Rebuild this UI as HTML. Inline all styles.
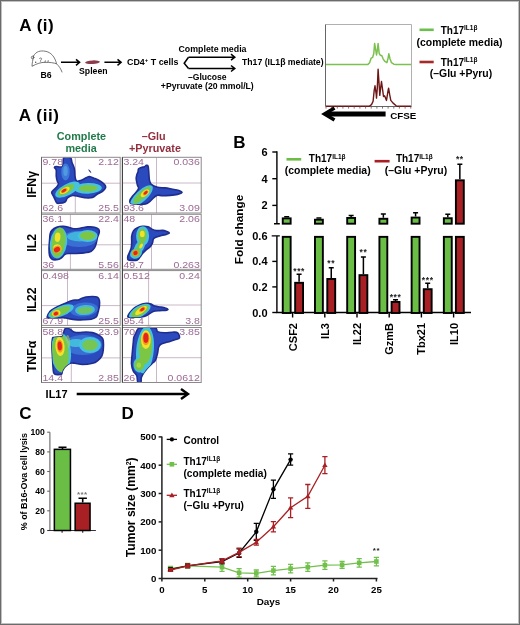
<!DOCTYPE html>
<html><head><meta charset="utf-8">
<style>
html,body{margin:0;padding:0;background:#fff;}
body{width:520px;height:625px;overflow:hidden;position:relative;}
svg{position:absolute;left:0;top:0;font-family:"Liberation Sans",sans-serif;will-change:transform;}
.b{font-weight:bold;}
.num{fill:#9c6a94;font-size:8.2px;}
.gl{stroke:#c4b0c2;stroke-width:0.9;}
.bx{fill:none;stroke:#8a8a8a;stroke-width:1;}
</style></head><body>
<svg width="520" height="625" viewBox="0 0 520 625">
<defs>
<filter id="bl" x="-20%" y="-20%" width="140%" height="140%"><feGaussianBlur stdDeviation="0.75"/></filter>
<filter id="bl2" x="-20%" y="-20%" width="140%" height="140%"><feGaussianBlur stdDeviation="0.5"/></filter>
</defs>
<rect x="0" y="0" width="520" height="625" fill="#fff"/>
<!-- border -->
<rect x="0.5" y="0.5" width="519" height="624" fill="none" stroke="#6b6b6b" stroke-width="1"/>
<rect x="1.5" y="1.5" width="517" height="622" fill="none" stroke="#c0c0c0" stroke-width="1"/>

<!-- ============ A (i) ============ -->
<g id="Ai">
<text x="19.3" y="31" class="b" font-size="17" letter-spacing="0.5">A (i)</text>
<!-- mouse -->
<g fill="none" stroke="#555" stroke-width="0.8" stroke-linecap="round">
<path d="M33.5,56 C36,51 41,50.5 45,51.2 C51,52 55,57 56.5,63.5"/>
<path d="M33.5,56 C33,60 32,63 32,66.3 C37,63.5 41,62.3 45,62.3 C50,62.3 54,62.8 56.5,63.8 C59,66 61,69 62,72"/>
<circle cx="32.6" cy="57.5" r="1.3"/>
<path d="M39.5,58.5 C40,57.5 42,57.8 41.5,59.3 C41,60 40.3,60.3 40.5,61.3"/>
<path d="M45,62.2 L45.3,60.8 M48,62 L48.2,60.6"/>
</g>
<circle cx="35.7" cy="62.3" r="0.7" fill="#444"/>
<text x="46" y="77.5" class="b" font-size="8.7" text-anchor="middle">B6</text>
<!-- arrows -->
<g stroke="#000" stroke-width="1.5" fill="none">
<path d="M61,62.3 H79.5 M76,59.3 L79.6,62.3 L76,65.3"/>
<path d="M104.4,62.3 H121 M117.5,59.3 L121.1,62.3 L117.5,65.3"/>
</g>
<ellipse cx="92.5" cy="62.2" rx="7.4" ry="1.8" fill="#8a3c4a" transform="rotate(-3 92.5 62.2)"/>
<text x="93.3" y="73.5" class="b" font-size="8.7" text-anchor="middle">Spleen</text>
<text x="127" y="65" class="b" font-size="8.9">CD4<tspan font-size="6" dy="-3.5">+</tspan><tspan dy="3.5"> T cells</tspan></text>
<g stroke="#000" stroke-width="1.5" fill="none" stroke-linejoin="miter">
<path d="M188.5,57.2 L184.2,63.2 L188.5,68.5"/>
<path d="M188.5,57.2 H234.5 M231,54.2 L234.8,57.2 L231,60.2"/>
<path d="M188.5,68.5 H234.5 M231,65.5 L234.8,68.5 L231,71.5"/>
</g>
<text x="212.5" y="52.1" class="b" font-size="8.8" text-anchor="middle">Complete media</text>
<text x="242" y="65" class="b" font-size="8.7">Th17 (IL1β mediate)</text>
<text x="207.3" y="79.5" class="b" font-size="8.6" text-anchor="middle">–Glucose</text>
<text x="207.3" y="89.4" class="b" font-size="8.7" text-anchor="middle">+Pyruvate (20 mmol/L)</text>
<!-- histogram box -->
<path d="M325.5,24.5 H411.5 V106.5" fill="none" stroke="#b0b0b0" stroke-width="1"/><path d="M325.5,24.5 V106.5 H411.5" fill="none" stroke="#666" stroke-width="1"/>
<!-- histogram traces -->

<polyline points="326,64.6 367.7,64.6 369.6,62.7 371.2,58.1 372.7,57.3 373.8,53.5 374.6,43.5 375.8,50.4 376.5,55 377.3,50.4 378.1,43.5 379.2,53.5 380.4,55.2 381.9,55.8 383.1,58.8 384.6,61.2 386.9,62.7 388.1,58.1 388.8,53.8 390,58.8 391.5,62.7 393.8,64.2 396,64.6 411,64.6" fill="none" stroke="#7cc150" stroke-width="1.5" stroke-linejoin="round"/>
<polyline points="326,106.3 369.2,106.3 371.5,104.6 373.1,101.2 374.2,90.4 375,85.8 376.2,94.2 376.5,98.1 377.3,88.1 378.1,69.2 379.1,84.2 379.8,95.4 380.8,86.5 381.5,81.5 382.7,90.4 383.5,96.5 384.6,95.8 386.5,100.4 388.1,90.4 388.6,88.1 389.6,94.2 390.8,100.4 393.1,103.1 396.2,105.8 397.7,106.3 411,106.3" fill="none" stroke="#6e1616" stroke-width="1.4" stroke-linejoin="round"/>
<path d="M326.0,106.5 V108.6 M331.6,106.5 V108.6 M337.3,106.5 V108.6 M342.9,106.5 V108.6 M348.6,106.5 V108.6 M354.2,106.5 V108.6 M359.9,106.5 V108.6 M365.6,106.5 V108.6 M371.2,106.5 V108.6 M376.9,106.5 V108.6 M382.5,106.5 V108.6 M388.1,106.5 V108.6 M393.8,106.5 V108.6 M399.4,106.5 V108.6 M405.1,106.5 V108.6 M410.8,106.5 V108.6" stroke="#555" stroke-width="0.8"/>
<!-- legend -->
<line x1="419.5" y1="29.8" x2="433.7" y2="29.8" stroke="#6cbf4a" stroke-width="2.6"/>
<text x="440.7" y="33.6" class="b" font-size="10">Th17<tspan font-size="6.5" dy="-3.6">IL1β</tspan></text>
<text x="416.6" y="46" class="b" font-size="10.45">(complete media)</text>
<line x1="419.5" y1="62" x2="433.7" y2="62" stroke="#a52a2a" stroke-width="2.6"/>
<text x="440.7" y="65.8" class="b" font-size="10">Th17<tspan font-size="6.5" dy="-3.6">IL1β</tspan></text>
<text x="429.8" y="77.3" class="b" font-size="10.45">(–Glu +Pyru)</text>
<!-- CFSE arrow -->
<g stroke="#000" fill="none">
<path d="M385.6,114 H326" stroke-width="5"/>
<path d="M334.5,108 L324.5,114 L334.5,120" stroke-width="3.5"/>
</g>
<text x="403.3" y="118.8" class="b" font-size="9.8" text-anchor="middle">CFSE</text>
</g>

<!-- ============ A (ii) ============ -->
<g id="Aii">
<text x="18.8" y="120.8" class="b" font-size="17" letter-spacing="0.6">A (ii)</text>
<text x="81.4" y="139.8" class="b" font-size="10.8" fill="#217a4a" text-anchor="middle">Complete</text>
<text x="81.1" y="151.9" class="b" font-size="10.8" fill="#217a4a" text-anchor="middle">media</text>
<text x="153.7" y="140" class="b" font-size="10.8" fill="#922f3e" text-anchor="middle">–Glu</text>
<text x="155" y="152.2" class="b" font-size="10.8" fill="#922f3e" text-anchor="middle">+Pyruvate</text>
<!-- row labels -->
<g class="b" font-size="12.3" text-anchor="middle">
<text transform="translate(36,184.3) rotate(-90)">IFNγ</text>
<text transform="translate(36,242.8) rotate(-90)">IL2</text>
<text transform="translate(36,299.8) rotate(-90)">IL22</text>
<text transform="translate(36,356.5) rotate(-90)">TNFα</text>
</g>
<text x="45.6" y="398" class="b" font-size="11">IL17</text>
<g stroke="#000" fill="none">
<path d="M76.7,394 H187" stroke-width="2.4"/>
<path d="M181,389 L188,394 L181,399" stroke-width="2.4"/>
</g>
</g>

<g id="flowgrid">
<line x1="75.3" y1="157.3" x2="75.3" y2="213.0" class="gl"/>
<line x1="41.5" y1="183.2" x2="120.2" y2="183.2" class="gl"/>
<line x1="156.5" y1="157.3" x2="156.5" y2="213.0" class="gl"/>
<line x1="122.4" y1="183.0" x2="201.2" y2="183.0" class="gl"/>
<line x1="70.4" y1="214.3" x2="70.4" y2="269.3" class="gl"/>
<line x1="41.5" y1="244.8" x2="120.2" y2="244.8" class="gl"/>
<line x1="151.5" y1="214.3" x2="151.5" y2="269.3" class="gl"/>
<line x1="122.4" y1="244.5" x2="201.2" y2="244.5" class="gl"/>
<line x1="67.5" y1="270.6" x2="67.5" y2="325.4" class="gl"/>
<line x1="41.5" y1="305.6" x2="120.2" y2="305.6" class="gl"/>
<line x1="148.6" y1="270.6" x2="148.6" y2="325.4" class="gl"/>
<line x1="122.4" y1="305.0" x2="201.2" y2="305.0" class="gl"/>
<line x1="71.3" y1="327.5" x2="71.3" y2="382.5" class="gl"/>
<line x1="41.5" y1="357.9" x2="120.2" y2="357.9" class="gl"/>
<line x1="156.5" y1="327.5" x2="156.5" y2="382.5" class="gl"/>
<line x1="122.4" y1="357.7" x2="201.2" y2="357.7" class="gl"/>
</g>
<g id="blobs">
<clipPath id="cpb"><rect x="41.5" y="157.3" width="159" height="225.2"/></clipPath>
<clipPath id="cp0"><path d="M63.8,157.5 C65.1,156.1 69.1,157.0 70.5,157.8 C71.9,158.6 71.3,160.7 72.0,162.5 C72.7,164.3 73.9,166.5 74.4,168.8 C74.9,171.1 74.7,174.3 75.0,176.3 C75.3,178.3 75.5,180.3 76.5,181.0 C77.5,181.7 79.7,180.7 81.3,180.2 C82.9,179.7 84.9,178.4 86.3,177.8 C87.7,177.2 88.0,176.5 89.4,176.6 C90.9,176.7 93.2,177.9 95.0,178.6 C96.8,179.3 98.4,180.0 100.0,181.0 C101.6,182.0 103.6,183.4 104.5,184.5 C105.4,185.6 105.9,186.4 105.6,187.5 C105.3,188.6 103.8,190.2 102.5,191.3 C101.2,192.4 99.2,193.0 97.5,194.0 C95.8,195.0 94.6,196.9 92.5,197.5 C90.4,198.1 87.3,198.0 85.0,197.8 C82.7,197.6 80.9,196.9 78.8,196.5 C76.7,196.1 74.4,195.2 72.5,195.5 C70.6,195.8 68.8,196.9 67.5,198.0 C66.2,199.1 66.5,201.1 65.0,202.0 C63.5,202.9 60.2,203.2 58.8,203.3 C57.4,203.4 57.3,203.6 56.5,202.5 C55.7,201.4 54.6,198.5 53.8,196.8 C53.0,195.1 51.7,193.7 51.7,192.5 C51.7,191.3 52.9,190.8 53.8,189.8 C54.7,188.8 56.1,187.8 56.9,186.7 C57.7,185.6 58.4,184.4 58.5,183.5 C58.6,182.6 57.7,182.5 57.3,181.3 C56.9,180.1 56.5,178.2 56.3,176.3 C56.1,174.4 56.5,171.5 56.2,170.0 C55.9,168.5 54.4,168.1 54.4,167.5 C54.4,166.9 54.6,166.7 56.0,166.5 C57.4,166.3 61.2,168.0 62.5,166.5 C63.8,165.0 62.5,158.9 63.8,157.5Z"/></clipPath>
<clipPath id="cp1"><path d="M146.3,165.4 C146.9,165.3 147.7,165.0 148.1,166.2 C148.5,167.4 148.6,170.2 148.8,172.5 C149.0,174.8 149.0,178.0 149.4,180.0 C149.8,182.0 150.0,183.2 151.3,184.4 C152.7,185.6 155.2,186.7 157.5,187.3 C159.8,187.9 162.5,187.6 165.0,187.9 C167.5,188.2 170.2,188.8 172.5,189.2 C174.8,189.6 177.2,189.9 178.8,190.5 C180.4,191.1 182.2,191.9 182.0,192.6 C181.8,193.2 179.5,193.9 177.5,194.4 C175.5,194.9 172.5,195.2 170.0,195.4 C167.5,195.6 164.6,195.7 162.5,195.7 C160.4,195.7 158.9,194.9 157.5,195.2 C156.1,195.5 155.1,196.6 153.8,197.6 C152.6,198.6 151.4,200.3 150.0,201.4 C148.6,202.5 147.7,203.5 145.6,203.9 C143.5,204.3 140.0,204.2 137.5,204.1 C135.0,204.0 131.7,204.0 130.4,203.3 C129.2,202.6 129.7,201.2 130.0,200.0 C130.3,198.8 131.3,197.8 132.5,196.3 C133.7,194.9 135.9,192.7 136.9,191.3 C137.9,189.9 138.5,189.2 138.6,188.1 C138.7,187.0 137.8,186.6 137.4,185.0 C137.0,183.4 136.3,180.5 136.2,178.8 C136.1,177.1 136.5,176.2 136.8,175.0 C137.1,173.8 137.7,172.9 138.0,171.9 C138.3,170.9 138.0,169.6 138.6,168.8 C139.2,168.1 140.3,167.7 141.3,167.4 C142.3,167.1 143.6,167.1 144.4,166.8 C145.2,166.5 145.7,165.5 146.3,165.4Z"/></clipPath>
<clipPath id="cp2"><path d="M51.9,230.4 C52.9,229.3 54.6,227.9 56.5,227.2 C58.4,226.5 61.4,226.2 63.5,226.3 C65.6,226.4 67.5,227.1 69.2,227.5 C70.9,227.9 71.9,228.6 73.8,228.7 C75.7,228.8 78.5,228.4 80.8,228.1 C83.1,227.8 85.4,227.1 87.7,226.9 C90.0,226.8 92.8,226.8 94.6,227.2 C96.4,227.6 97.9,228.3 98.7,229.2 C99.5,230.1 99.4,231.3 99.2,232.7 C99.0,234.0 98.0,235.6 97.5,237.3 C97.0,239.0 96.8,241.4 96.3,243.1 C95.8,244.8 95.4,246.3 94.6,247.7 C93.8,249.0 92.9,250.3 91.2,251.2 C89.5,252.1 86.7,252.5 84.2,252.9 C81.7,253.3 78.9,253.4 76.2,253.5 C73.5,253.6 70.0,253.3 68.1,253.5 C66.2,253.7 65.8,253.8 64.6,254.6 C63.4,255.4 62.6,257.2 61.2,258.1 C59.9,259.0 58.0,259.6 56.5,259.8 C55.0,260.0 53.0,259.9 51.9,259.2 C50.8,258.5 50.1,257.5 49.6,255.8 C49.1,254.1 49.0,251.5 49.0,248.8 C49.0,246.1 49.4,242.1 49.6,239.6 C49.8,237.1 49.8,235.3 50.2,233.8 C50.6,232.3 50.9,231.5 51.9,230.4Z"/></clipPath>
<clipPath id="cp3"><path d="M133.6,230.6 C134.6,229.2 136.1,228.4 137.5,227.7 C138.9,227.0 140.6,226.5 142.3,226.3 C144.1,226.1 146.4,226.2 148.0,226.7 C149.6,227.2 150.5,228.4 151.9,229.1 C153.3,229.8 154.9,230.4 156.7,230.6 C158.5,230.8 160.9,230.3 162.5,230.4 C164.1,230.5 165.2,230.9 166.3,231.3 C167.5,231.7 169.4,232.5 169.4,233.0 C169.4,233.5 167.6,234.0 166.3,234.4 C165.0,234.8 163.3,234.9 161.5,235.4 C159.7,235.9 157.1,236.7 155.7,237.3 C154.3,237.9 153.9,238.2 153.3,239.2 C152.8,240.2 153.0,241.8 152.4,243.1 C151.8,244.4 151.1,245.8 150.0,246.9 C148.9,248.0 147.2,248.8 146.1,249.8 C145.0,250.8 144.2,251.6 143.2,252.7 C142.2,253.8 141.2,255.3 140.3,256.5 C139.4,257.7 138.8,259.2 137.5,259.9 C136.2,260.5 134.2,260.4 132.7,260.4 C131.1,260.4 129.0,260.5 128.2,259.9 C127.4,259.2 127.6,257.7 127.8,256.5 C128.0,255.3 128.7,254.1 129.3,252.7 C129.9,251.3 130.8,249.7 131.2,247.9 C131.6,246.1 131.6,244.0 131.7,242.1 C131.8,240.2 131.4,238.2 131.7,236.3 C132.0,234.4 132.6,232.0 133.6,230.6Z"/></clipPath>
<clipPath id="cp4"><path d="M47.3,316.5 C47.6,315.5 48.5,313.2 49.6,311.9 C50.8,310.6 52.3,309.6 54.2,308.5 C56.1,307.4 58.9,306.1 61.2,305.0 C63.5,303.9 66.1,302.9 68.1,302.1 C70.1,301.3 71.3,300.6 73.0,300.2 C74.7,299.8 76.5,300.3 78.0,300.0 C79.5,299.7 80.7,298.7 82.0,298.2 C83.3,297.7 84.3,297.3 86.0,297.0 C87.7,296.7 90.4,296.5 92.3,296.5 C94.2,296.5 96.3,296.6 97.5,297.2 C98.7,297.8 99.1,298.9 99.4,300.4 C99.7,301.9 99.6,304.3 99.4,306.2 C99.2,308.1 98.6,310.1 98.1,311.9 C97.6,313.7 97.3,315.8 96.2,317.0 C95.1,318.2 93.4,318.7 91.2,319.2 C89.0,319.7 85.8,319.7 83.1,319.8 C80.4,319.9 77.5,319.8 75.0,319.6 C72.5,319.4 70.0,318.8 68.1,318.5 C66.2,318.2 65.0,317.7 63.5,317.6 C62.0,317.5 60.7,317.8 58.8,317.9 C56.9,318.0 53.7,318.0 51.9,318.0 C50.1,318.0 48.7,318.2 47.9,318.0 C47.1,317.8 47.0,317.5 47.3,316.5Z"/></clipPath>
<clipPath id="cp5"><path d="M127.8,316.2 C128.0,315.4 128.8,314.1 129.8,312.8 C130.8,311.5 132.2,309.7 133.6,308.5 C135.0,307.3 136.8,306.4 138.4,305.6 C140.0,304.8 141.8,304.1 143.2,303.7 C144.6,303.3 145.8,303.1 147.1,303.2 C148.4,303.3 149.6,303.6 150.9,304.1 C152.2,304.6 153.2,305.6 154.8,306.1 C156.4,306.6 158.8,306.7 160.5,307.0 C162.2,307.3 164.1,307.6 165.3,308.0 C166.6,308.4 168.0,309.0 168.0,309.4 C168.0,309.8 166.7,310.2 165.3,310.4 C163.9,310.6 161.5,310.5 159.6,310.6 C157.7,310.8 155.4,310.9 153.8,311.3 C152.2,311.8 151.3,312.6 150.0,313.3 C148.7,314.0 147.5,315.1 146.1,315.7 C144.7,316.3 143.4,316.6 141.3,316.9 C139.2,317.2 135.7,317.2 133.6,317.3 C131.5,317.4 129.8,317.5 128.8,317.3 C127.8,317.1 127.6,316.9 127.8,316.2Z"/></clipPath>
<clipPath id="cp6"><path d="M52.5,338.3 C52.2,339.7 51.9,342.5 51.9,345.8 C51.9,349.1 52.3,354.6 52.5,358.3 C52.7,362.1 52.8,365.7 53.1,368.3 C53.4,370.9 53.0,372.9 54.4,373.9 C55.8,374.9 59.9,374.8 61.3,374.3 C62.6,373.8 61.9,372.0 62.5,370.8 C63.1,369.6 63.8,368.2 65.0,367.0 C66.2,365.8 68.3,363.9 70.0,363.3 C71.7,362.7 72.9,363.1 75.0,363.3 C77.1,363.5 79.6,364.5 82.5,364.5 C85.4,364.5 90.0,363.9 92.5,363.3 C95.0,362.7 95.9,362.1 97.5,360.8 C99.1,359.6 100.9,357.7 101.9,355.8 C102.9,353.9 103.1,352.0 103.3,349.5 C103.5,347.0 103.5,342.8 103.3,340.8 C103.1,338.8 102.9,338.7 101.9,337.6 C100.9,336.6 99.1,335.3 97.5,334.5 C95.9,333.7 94.4,333.0 92.5,332.6 C90.6,332.2 88.6,332.0 86.3,332.0 C84.0,332.0 80.9,332.6 78.8,332.6 C76.7,332.6 75.2,332.5 73.8,332.0 C72.4,331.5 71.6,330.1 70.6,329.5 C69.5,328.9 68.4,328.4 67.5,328.3 C66.6,328.2 65.6,328.3 65.0,328.9 C64.4,329.5 64.2,330.8 63.8,332.0 C63.4,333.2 63.5,335.6 62.5,336.4 C61.5,337.2 59.0,336.8 57.5,337.0 C56.0,337.2 54.6,337.4 53.8,337.6 C53.0,337.8 52.8,336.9 52.5,338.3Z"/></clipPath>
<clipPath id="cp7"><path d="M140.2,328.0 C143.2,327.7 152.3,327.4 155.2,328.0 C158.1,328.6 156.0,330.8 157.5,331.6 C159.0,332.4 161.9,332.7 164.4,332.8 C166.9,332.9 170.3,332.2 172.5,332.2 C174.7,332.2 176.5,331.8 177.7,332.8 C178.8,333.8 179.9,336.9 179.4,338.0 C178.9,339.1 176.7,339.0 174.8,339.7 C172.9,340.4 170.1,341.2 167.8,342.0 C165.5,342.8 162.4,343.4 160.9,344.3 C159.4,345.2 159.2,345.7 158.6,347.2 C158.0,348.7 158.1,351.3 157.5,353.5 C156.9,355.7 156.2,358.8 155.2,360.5 C154.2,362.2 153.0,362.6 151.7,363.9 C150.3,365.2 148.4,366.9 147.1,368.5 C145.8,370.1 144.6,371.6 143.6,373.2 C142.6,374.8 141.8,376.3 141.3,377.8 C140.9,379.3 141.5,381.6 140.9,382.4 C140.3,383.2 138.5,383.5 137.8,382.4 C137.1,381.2 137.5,377.4 136.7,375.5 C135.9,373.6 134.1,372.7 133.2,370.8 C132.3,368.9 131.7,366.6 131.5,363.9 C131.3,361.2 131.8,358.1 132.1,354.7 C132.4,351.2 132.9,346.1 133.2,343.2 C133.5,340.3 133.4,338.9 133.8,337.4 C134.2,335.8 134.9,335.1 135.5,333.9 C136.1,332.6 136.5,330.9 137.3,329.9 C138.1,328.9 137.2,328.3 140.2,328.0Z"/></clipPath>
<g clip-path="url(#cpb)">
<path d="M63.8,157.5 C65.1,156.1 69.1,157.0 70.5,157.8 C71.9,158.6 71.3,160.7 72.0,162.5 C72.7,164.3 73.9,166.5 74.4,168.8 C74.9,171.1 74.7,174.3 75.0,176.3 C75.3,178.3 75.5,180.3 76.5,181.0 C77.5,181.7 79.7,180.7 81.3,180.2 C82.9,179.7 84.9,178.4 86.3,177.8 C87.7,177.2 88.0,176.5 89.4,176.6 C90.9,176.7 93.2,177.9 95.0,178.6 C96.8,179.3 98.4,180.0 100.0,181.0 C101.6,182.0 103.6,183.4 104.5,184.5 C105.4,185.6 105.9,186.4 105.6,187.5 C105.3,188.6 103.8,190.2 102.5,191.3 C101.2,192.4 99.2,193.0 97.5,194.0 C95.8,195.0 94.6,196.9 92.5,197.5 C90.4,198.1 87.3,198.0 85.0,197.8 C82.7,197.6 80.9,196.9 78.8,196.5 C76.7,196.1 74.4,195.2 72.5,195.5 C70.6,195.8 68.8,196.9 67.5,198.0 C66.2,199.1 66.5,201.1 65.0,202.0 C63.5,202.9 60.2,203.2 58.8,203.3 C57.4,203.4 57.3,203.6 56.5,202.5 C55.7,201.4 54.6,198.5 53.8,196.8 C53.0,195.1 51.7,193.7 51.7,192.5 C51.7,191.3 52.9,190.8 53.8,189.8 C54.7,188.8 56.1,187.8 56.9,186.7 C57.7,185.6 58.4,184.4 58.5,183.5 C58.6,182.6 57.7,182.5 57.3,181.3 C56.9,180.1 56.5,178.2 56.3,176.3 C56.1,174.4 56.5,171.5 56.2,170.0 C55.9,168.5 54.4,168.1 54.4,167.5 C54.4,166.9 54.6,166.7 56.0,166.5 C57.4,166.3 61.2,168.0 62.5,166.5 C63.8,165.0 62.5,158.9 63.8,157.5Z" fill="#2b4abd" stroke="#1f2d8e" stroke-width="1.6"/>
<path d="M88.2,169.2 C89.5,169.6 91.4,171.5 91.3,173.2 C90.2,172.6 88.6,171 88.2,169.2Z" fill="#1f2d8e"/>
<g clip-path="url(#cp0)"><g filter="url(#bl)">
<ellipse cx="65.5" cy="172" rx="4.2" ry="8.5" transform="rotate(0 65.5 172)" fill="#3f7fdc" opacity="0.9"/>
<ellipse cx="65.5" cy="171" rx="2.2" ry="5.0" transform="rotate(0 65.5 171)" fill="#5aa6e6" opacity="0.7"/>
<ellipse cx="67.5" cy="189.6" rx="13.5" ry="5.6" transform="rotate(-28 67.5 189.6)" fill="#45c2de"/>
<ellipse cx="88" cy="188.3" rx="13.8" ry="5.4" transform="rotate(-2 88 188.3)" fill="#45c2de"/>
<ellipse cx="88" cy="188.3" rx="9.46" ry="3.3" transform="rotate(-2 88 188.3)" fill="#7cc644"/>
<ellipse cx="66" cy="189.9" rx="9.46" ry="3.8" transform="rotate(-30 66 189.9)" fill="#7cc644"/>
<ellipse cx="64.8" cy="190.4" rx="5.5" ry="2.6" transform="rotate(-30 64.8 190.4)" fill="#f2e32a"/>
<ellipse cx="64.2" cy="190.6" rx="3.6" ry="1.9" transform="rotate(-30 64.2 190.6)" fill="#f39a22"/>
<ellipse cx="63.9" cy="190.6" rx="2.6" ry="1.31" transform="rotate(-30 63.9 190.6)" fill="#e2251e"/>
</g></g>
<path d="M146.3,165.4 C146.9,165.3 147.7,165.0 148.1,166.2 C148.5,167.4 148.6,170.2 148.8,172.5 C149.0,174.8 149.0,178.0 149.4,180.0 C149.8,182.0 150.0,183.2 151.3,184.4 C152.7,185.6 155.2,186.7 157.5,187.3 C159.8,187.9 162.5,187.6 165.0,187.9 C167.5,188.2 170.2,188.8 172.5,189.2 C174.8,189.6 177.2,189.9 178.8,190.5 C180.4,191.1 182.2,191.9 182.0,192.6 C181.8,193.2 179.5,193.9 177.5,194.4 C175.5,194.9 172.5,195.2 170.0,195.4 C167.5,195.6 164.6,195.7 162.5,195.7 C160.4,195.7 158.9,194.9 157.5,195.2 C156.1,195.5 155.1,196.6 153.8,197.6 C152.6,198.6 151.4,200.3 150.0,201.4 C148.6,202.5 147.7,203.5 145.6,203.9 C143.5,204.3 140.0,204.2 137.5,204.1 C135.0,204.0 131.7,204.0 130.4,203.3 C129.2,202.6 129.7,201.2 130.0,200.0 C130.3,198.8 131.3,197.8 132.5,196.3 C133.7,194.9 135.9,192.7 136.9,191.3 C137.9,189.9 138.5,189.2 138.6,188.1 C138.7,187.0 137.8,186.6 137.4,185.0 C137.0,183.4 136.3,180.5 136.2,178.8 C136.1,177.1 136.5,176.2 136.8,175.0 C137.1,173.8 137.7,172.9 138.0,171.9 C138.3,170.9 138.0,169.6 138.6,168.8 C139.2,168.1 140.3,167.7 141.3,167.4 C142.3,167.1 143.6,167.1 144.4,166.8 C145.2,166.5 145.7,165.5 146.3,165.4Z" fill="#2b4abd" stroke="#1f2d8e" stroke-width="1.6"/>
<g clip-path="url(#cp1)"><g filter="url(#bl)">
<ellipse cx="141.5" cy="196" rx="14.5" ry="5.6" transform="rotate(-43 141.5 196)" fill="#45c2de"/>
<ellipse cx="142" cy="195.2" rx="11.55" ry="3.63" transform="rotate(-43 142 195.2)" fill="#7cc644"/>
<ellipse cx="145" cy="193.2" rx="5.07" ry="2.6" transform="rotate(-40 145 193.2)" fill="#f2e32a"/>
<ellipse cx="145.6" cy="192.8" rx="3.24" ry="1.8" transform="rotate(-40 145.6 192.8)" fill="#f39a22"/>
<ellipse cx="145.7" cy="192.7" rx="2.32" ry="1.28" transform="rotate(-40 145.7 192.7)" fill="#e2251e"/>
</g></g>
<path d="M51.9,230.4 C52.9,229.3 54.6,227.9 56.5,227.2 C58.4,226.5 61.4,226.2 63.5,226.3 C65.6,226.4 67.5,227.1 69.2,227.5 C70.9,227.9 71.9,228.6 73.8,228.7 C75.7,228.8 78.5,228.4 80.8,228.1 C83.1,227.8 85.4,227.1 87.7,226.9 C90.0,226.8 92.8,226.8 94.6,227.2 C96.4,227.6 97.9,228.3 98.7,229.2 C99.5,230.1 99.4,231.3 99.2,232.7 C99.0,234.0 98.0,235.6 97.5,237.3 C97.0,239.0 96.8,241.4 96.3,243.1 C95.8,244.8 95.4,246.3 94.6,247.7 C93.8,249.0 92.9,250.3 91.2,251.2 C89.5,252.1 86.7,252.5 84.2,252.9 C81.7,253.3 78.9,253.4 76.2,253.5 C73.5,253.6 70.0,253.3 68.1,253.5 C66.2,253.7 65.8,253.8 64.6,254.6 C63.4,255.4 62.6,257.2 61.2,258.1 C59.9,259.0 58.0,259.6 56.5,259.8 C55.0,260.0 53.0,259.9 51.9,259.2 C50.8,258.5 50.1,257.5 49.6,255.8 C49.1,254.1 49.0,251.5 49.0,248.8 C49.0,246.1 49.4,242.1 49.6,239.6 C49.8,237.1 49.8,235.3 50.2,233.8 C50.6,232.3 50.9,231.5 51.9,230.4Z" fill="#2b4abd" stroke="#1f2d8e" stroke-width="1.6"/>
<g clip-path="url(#cp2)"><g filter="url(#bl)">
<ellipse cx="79" cy="239" rx="18.0" ry="8.0" transform="rotate(0 79 239)" fill="#3f7fdc" opacity="0.7"/>
<ellipse cx="80" cy="236.5" rx="13.0" ry="5.0" transform="rotate(0 80 236.5)" fill="#45c2de" opacity="0.8"/>
<ellipse cx="87.7" cy="236" rx="10.0" ry="6.0" transform="rotate(0 87.7 236)" fill="#45c2de"/>
<ellipse cx="58.5" cy="243" rx="8.5" ry="15.5" transform="rotate(8 58.5 243)" fill="#45c2de"/>
<ellipse cx="87.7" cy="235.8" rx="7.7" ry="4.18" transform="rotate(0 87.7 235.8)" fill="#7cc644"/>
<ellipse cx="58.5" cy="242.5" rx="6.82" ry="14.85" transform="rotate(8 58.5 242.5)" fill="#7cc644"/>
<ellipse cx="57.6" cy="237.3" rx="2.83" ry="4.72" transform="rotate(5 57.6 237.3)" fill="#f2e32a"/>
<ellipse cx="57.4" cy="248.4" rx="4.01" ry="4.13" transform="rotate(-20 57.4 248.4)" fill="#f2e32a"/>
<ellipse cx="57.2" cy="249.3" rx="4.32" ry="3.48" transform="rotate(-30 57.2 249.3)" fill="#f39a22"/>
<ellipse cx="57" cy="249.6" rx="3.17" ry="2.56" transform="rotate(-30 57 249.6)" fill="#e2251e"/>
</g></g>
<path d="M133.6,230.6 C134.6,229.2 136.1,228.4 137.5,227.7 C138.9,227.0 140.6,226.5 142.3,226.3 C144.1,226.1 146.4,226.2 148.0,226.7 C149.6,227.2 150.5,228.4 151.9,229.1 C153.3,229.8 154.9,230.4 156.7,230.6 C158.5,230.8 160.9,230.3 162.5,230.4 C164.1,230.5 165.2,230.9 166.3,231.3 C167.5,231.7 169.4,232.5 169.4,233.0 C169.4,233.5 167.6,234.0 166.3,234.4 C165.0,234.8 163.3,234.9 161.5,235.4 C159.7,235.9 157.1,236.7 155.7,237.3 C154.3,237.9 153.9,238.2 153.3,239.2 C152.8,240.2 153.0,241.8 152.4,243.1 C151.8,244.4 151.1,245.8 150.0,246.9 C148.9,248.0 147.2,248.8 146.1,249.8 C145.0,250.8 144.2,251.6 143.2,252.7 C142.2,253.8 141.2,255.3 140.3,256.5 C139.4,257.7 138.8,259.2 137.5,259.9 C136.2,260.5 134.2,260.4 132.7,260.4 C131.1,260.4 129.0,260.5 128.2,259.9 C127.4,259.2 127.6,257.7 127.8,256.5 C128.0,255.3 128.7,254.1 129.3,252.7 C129.9,251.3 130.8,249.7 131.2,247.9 C131.6,246.1 131.6,244.0 131.7,242.1 C131.8,240.2 131.4,238.2 131.7,236.3 C132.0,234.4 132.6,232.0 133.6,230.6Z" fill="#2b4abd" stroke="#1f2d8e" stroke-width="1.6"/>
<g clip-path="url(#cp3)"><g filter="url(#bl)">
<ellipse cx="142.6" cy="236" rx="6.5" ry="10.0" transform="rotate(0 142.6 236)" fill="#45c2de"/>
<ellipse cx="139.5" cy="247" rx="4.5" ry="8.5" transform="rotate(30 139.5 247)" fill="#45c2de"/>
<ellipse cx="136" cy="253.5" rx="6.2" ry="4.8" transform="rotate(-30 136 253.5)" fill="#45c2de"/>
<ellipse cx="142.4" cy="235.8" rx="4.4" ry="7.04" transform="rotate(0 142.4 235.8)" fill="#7cc644"/>
<ellipse cx="140.4" cy="245" rx="2.42" ry="5.06" transform="rotate(30 140.4 245)" fill="#7cc644"/>
<ellipse cx="136" cy="252.8" rx="4.62" ry="3.96" transform="rotate(-30 136 252.8)" fill="#7cc644"/>
<ellipse cx="142.3" cy="233.9" rx="2.36" ry="3.19" transform="rotate(0 142.3 233.9)" fill="#f2e32a"/>
<ellipse cx="141.1" cy="246" rx="1.53" ry="2.71" transform="rotate(30 141.1 246)" fill="#f2e32a"/>
<ellipse cx="135.6" cy="253" rx="3.12" ry="2.88" transform="rotate(-30 135.6 253)" fill="#f39a22"/>
<ellipse cx="135.5" cy="253" rx="2.26" ry="2.07" transform="rotate(-30 135.5 253)" fill="#e2251e"/>
</g></g>
<path d="M47.3,316.5 C47.6,315.5 48.5,313.2 49.6,311.9 C50.8,310.6 52.3,309.6 54.2,308.5 C56.1,307.4 58.9,306.1 61.2,305.0 C63.5,303.9 66.1,302.9 68.1,302.1 C70.1,301.3 71.3,300.6 73.0,300.2 C74.7,299.8 76.5,300.3 78.0,300.0 C79.5,299.7 80.7,298.7 82.0,298.2 C83.3,297.7 84.3,297.3 86.0,297.0 C87.7,296.7 90.4,296.5 92.3,296.5 C94.2,296.5 96.3,296.6 97.5,297.2 C98.7,297.8 99.1,298.9 99.4,300.4 C99.7,301.9 99.6,304.3 99.4,306.2 C99.2,308.1 98.6,310.1 98.1,311.9 C97.6,313.7 97.3,315.8 96.2,317.0 C95.1,318.2 93.4,318.7 91.2,319.2 C89.0,319.7 85.8,319.7 83.1,319.8 C80.4,319.9 77.5,319.8 75.0,319.6 C72.5,319.4 70.0,318.8 68.1,318.5 C66.2,318.2 65.0,317.7 63.5,317.6 C62.0,317.5 60.7,317.8 58.8,317.9 C56.9,318.0 53.7,318.0 51.9,318.0 C50.1,318.0 48.7,318.2 47.9,318.0 C47.1,317.8 47.0,317.5 47.3,316.5Z" fill="#2b4abd" stroke="#1f2d8e" stroke-width="1.6"/>
<g clip-path="url(#cp4)"><g filter="url(#bl)">
<ellipse cx="84" cy="309.5" rx="14.0" ry="7.0" transform="rotate(-5 84 309.5)" fill="#3f7fdc" opacity="0.7"/>
<ellipse cx="85" cy="310" rx="10.0" ry="5.0" transform="rotate(-5 85 310)" fill="#45c2de" opacity="0.9"/>
<ellipse cx="61" cy="311.2" rx="13.5" ry="5.0" transform="rotate(-22 61 311.2)" fill="#45c2de"/>
<ellipse cx="85" cy="310.3" rx="7.7" ry="3.3" transform="rotate(-5 85 310.3)" fill="#7cc644" opacity="0.8"/>
<ellipse cx="60" cy="311.6" rx="11.0" ry="3.85" transform="rotate(-22 60 311.6)" fill="#7cc644"/>
<ellipse cx="56.3" cy="313.3" rx="4.25" ry="3.07" transform="rotate(-20 56.3 313.3)" fill="#f2e32a"/>
<ellipse cx="56" cy="313.6" rx="3.12" ry="2.4" transform="rotate(-20 56 313.6)" fill="#f39a22"/>
<ellipse cx="55.9" cy="313.7" rx="2.2" ry="1.77" transform="rotate(-20 55.9 313.7)" fill="#e2251e"/>
</g></g>
<path d="M127.8,316.2 C128.0,315.4 128.8,314.1 129.8,312.8 C130.8,311.5 132.2,309.7 133.6,308.5 C135.0,307.3 136.8,306.4 138.4,305.6 C140.0,304.8 141.8,304.1 143.2,303.7 C144.6,303.3 145.8,303.1 147.1,303.2 C148.4,303.3 149.6,303.6 150.9,304.1 C152.2,304.6 153.2,305.6 154.8,306.1 C156.4,306.6 158.8,306.7 160.5,307.0 C162.2,307.3 164.1,307.6 165.3,308.0 C166.6,308.4 168.0,309.0 168.0,309.4 C168.0,309.8 166.7,310.2 165.3,310.4 C163.9,310.6 161.5,310.5 159.6,310.6 C157.7,310.8 155.4,310.9 153.8,311.3 C152.2,311.8 151.3,312.6 150.0,313.3 C148.7,314.0 147.5,315.1 146.1,315.7 C144.7,316.3 143.4,316.6 141.3,316.9 C139.2,317.2 135.7,317.2 133.6,317.3 C131.5,317.4 129.8,317.5 128.8,317.3 C127.8,317.1 127.6,316.9 127.8,316.2Z" fill="#2b4abd" stroke="#1f2d8e" stroke-width="1.6"/>
<g clip-path="url(#cp5)"><g filter="url(#bl)">
<ellipse cx="139.8" cy="311.3" rx="12.0" ry="5.4" transform="rotate(-30 139.8 311.3)" fill="#45c2de"/>
<ellipse cx="140" cy="311.3" rx="9.9" ry="4.18" transform="rotate(-30 140 311.3)" fill="#7cc644"/>
<ellipse cx="141" cy="310.5" rx="6.84" ry="2.71" transform="rotate(-35 141 310.5)" fill="#f2e32a"/>
<ellipse cx="142.2" cy="309.5" rx="3.6" ry="1.92" transform="rotate(-35 142.2 309.5)" fill="#f39a22"/>
<ellipse cx="142.3" cy="309.4" rx="2.44" ry="1.34" transform="rotate(-35 142.3 309.4)" fill="#e2251e"/>
</g></g>
<path d="M52.5,338.3 C52.2,339.7 51.9,342.5 51.9,345.8 C51.9,349.1 52.3,354.6 52.5,358.3 C52.7,362.1 52.8,365.7 53.1,368.3 C53.4,370.9 53.0,372.9 54.4,373.9 C55.8,374.9 59.9,374.8 61.3,374.3 C62.6,373.8 61.9,372.0 62.5,370.8 C63.1,369.6 63.8,368.2 65.0,367.0 C66.2,365.8 68.3,363.9 70.0,363.3 C71.7,362.7 72.9,363.1 75.0,363.3 C77.1,363.5 79.6,364.5 82.5,364.5 C85.4,364.5 90.0,363.9 92.5,363.3 C95.0,362.7 95.9,362.1 97.5,360.8 C99.1,359.6 100.9,357.7 101.9,355.8 C102.9,353.9 103.1,352.0 103.3,349.5 C103.5,347.0 103.5,342.8 103.3,340.8 C103.1,338.8 102.9,338.7 101.9,337.6 C100.9,336.6 99.1,335.3 97.5,334.5 C95.9,333.7 94.4,333.0 92.5,332.6 C90.6,332.2 88.6,332.0 86.3,332.0 C84.0,332.0 80.9,332.6 78.8,332.6 C76.7,332.6 75.2,332.5 73.8,332.0 C72.4,331.5 71.6,330.1 70.6,329.5 C69.5,328.9 68.4,328.4 67.5,328.3 C66.6,328.2 65.6,328.3 65.0,328.9 C64.4,329.5 64.2,330.8 63.8,332.0 C63.4,333.2 63.5,335.6 62.5,336.4 C61.5,337.2 59.0,336.8 57.5,337.0 C56.0,337.2 54.6,337.4 53.8,337.6 C53.0,337.8 52.8,336.9 52.5,338.3Z" fill="#2b4abd" stroke="#1f2d8e" stroke-width="1.6"/>
<g clip-path="url(#cp6)"><g filter="url(#bl)">
<ellipse cx="83" cy="345" rx="19.0" ry="10.0" transform="rotate(0 83 345)" fill="#3f7fdc" opacity="0.7"/>
<ellipse cx="76" cy="343" rx="9.0" ry="4.0" transform="rotate(0 76 343)" fill="#45c2de" opacity="0.9"/>
<ellipse cx="90" cy="345" rx="11.0" ry="8.0" transform="rotate(0 90 345)" fill="#45c2de"/>
<ellipse cx="61" cy="352.5" rx="10.0" ry="20.0" transform="rotate(-4 61 352.5)" fill="#45c2de"/>
<ellipse cx="90" cy="345" rx="7.7" ry="5.5" transform="rotate(0 90 345)" fill="#7cc644" opacity="0.9"/>
<ellipse cx="67.5" cy="342" rx="2.5" ry="7.0" transform="rotate(0 67.5 342)" fill="#a8d64a" opacity="0.55"/>
<ellipse cx="60.5" cy="352.5" rx="8.25" ry="19.8" transform="rotate(-4 60.5 352.5)" fill="#7cc644"/>
<ellipse cx="60" cy="346.5" rx="4.6" ry="9.44" transform="rotate(-4 60 346.5)" fill="#f2e32a"/>
<ellipse cx="59.9" cy="346.2" rx="3.12" ry="6.48" transform="rotate(-4 59.9 346.2)" fill="#f39a22"/>
<ellipse cx="59.8" cy="346" rx="2.13" ry="4.51" transform="rotate(-4 59.8 346)" fill="#e2251e"/>
</g></g>
<path d="M140.2,328.0 C143.2,327.7 152.3,327.4 155.2,328.0 C158.1,328.6 156.0,330.8 157.5,331.6 C159.0,332.4 161.9,332.7 164.4,332.8 C166.9,332.9 170.3,332.2 172.5,332.2 C174.7,332.2 176.5,331.8 177.7,332.8 C178.8,333.8 179.9,336.9 179.4,338.0 C178.9,339.1 176.7,339.0 174.8,339.7 C172.9,340.4 170.1,341.2 167.8,342.0 C165.5,342.8 162.4,343.4 160.9,344.3 C159.4,345.2 159.2,345.7 158.6,347.2 C158.0,348.7 158.1,351.3 157.5,353.5 C156.9,355.7 156.2,358.8 155.2,360.5 C154.2,362.2 153.0,362.6 151.7,363.9 C150.3,365.2 148.4,366.9 147.1,368.5 C145.8,370.1 144.6,371.6 143.6,373.2 C142.6,374.8 141.8,376.3 141.3,377.8 C140.9,379.3 141.5,381.6 140.9,382.4 C140.3,383.2 138.5,383.5 137.8,382.4 C137.1,381.2 137.5,377.4 136.7,375.5 C135.9,373.6 134.1,372.7 133.2,370.8 C132.3,368.9 131.7,366.6 131.5,363.9 C131.3,361.2 131.8,358.1 132.1,354.7 C132.4,351.2 132.9,346.1 133.2,343.2 C133.5,340.3 133.4,338.9 133.8,337.4 C134.2,335.8 134.9,335.1 135.5,333.9 C136.1,332.6 136.5,330.9 137.3,329.9 C138.1,328.9 137.2,328.3 140.2,328.0Z" fill="#2b4abd" stroke="#1f2d8e" stroke-width="1.6"/>
<g clip-path="url(#cp7)"><g filter="url(#bl)">
<ellipse cx="145" cy="350" rx="8.8" ry="23.5" transform="rotate(5 145 350)" fill="#45c2de"/>
<ellipse cx="140" cy="364.5" rx="6.5" ry="8.0" transform="rotate(10 140 364.5)" fill="#45c2de"/>
<ellipse cx="145.6" cy="347" rx="6.6" ry="17.05" transform="rotate(3 145.6 347)" fill="#7cc644"/>
<ellipse cx="139.6" cy="364.5" rx="4.95" ry="6.16" transform="rotate(10 139.6 364.5)" fill="#7cc644"/>
<ellipse cx="138.8" cy="365.2" rx="2.2" ry="2.6" transform="rotate(0 138.8 365.2)" fill="#a8d64a"/>
<ellipse cx="145.9" cy="339.6" rx="4.84" ry="9.44" transform="rotate(0 145.9 339.6)" fill="#f2e32a"/>
<ellipse cx="145.9" cy="338.6" rx="3.6" ry="6.6" transform="rotate(0 145.9 338.6)" fill="#f39a22"/>
<ellipse cx="145.9" cy="338" rx="2.56" ry="4.88" transform="rotate(0 145.9 338)" fill="#e2251e"/>
</g></g>
</g>
</g>
<g id="flowbox">
<rect x="41.5" y="157.3" width="78.7" height="55.7" class="bx"/>
<rect x="122.4" y="157.3" width="78.8" height="55.7" class="bx"/>
<rect x="41.5" y="214.3" width="78.7" height="55.0" class="bx"/>
<rect x="122.4" y="214.3" width="78.8" height="55.0" class="bx"/>
<rect x="41.5" y="270.6" width="78.7" height="54.8" class="bx"/>
<rect x="122.4" y="270.6" width="78.8" height="54.8" class="bx"/>
<rect x="41.5" y="327.5" width="78.7" height="55.0" class="bx"/>
<rect x="122.4" y="327.5" width="78.8" height="55.0" class="bx"/>
<path d="M41.5,157.3 V382.5" stroke="#666" stroke-width="1"/>
<path d="M122.4,157.3 V382.5" stroke="#3a3a3a" stroke-width="1"/>
</g>
<g class="num" transform="scale(1.29,1)">
<text x="32.95" y="165.30">9.78</text>
<text x="76.21" y="165.30">2.12</text>
<text x="32.95" y="211.50">62.6</text>
<text x="76.21" y="211.50">25.5</text>
<text x="95.66" y="165.30">3.24</text>
<text x="134.44" y="165.30">0.036</text>
<text x="95.66" y="211.50">93.6</text>
<text x="139.00" y="211.50">3.09</text>
<text x="32.95" y="222.30">36.1</text>
<text x="76.21" y="222.30">22.4</text>
<text x="32.95" y="267.80">36</text>
<text x="76.21" y="267.80">5.56</text>
<text x="95.66" y="222.30">48</text>
<text x="139.00" y="222.30">2.06</text>
<text x="95.66" y="267.80">49.7</text>
<text x="134.44" y="267.80">0.263</text>
<text x="32.95" y="278.60">0.498</text>
<text x="76.21" y="278.60">6.14</text>
<text x="32.95" y="323.90">67.9</text>
<text x="76.21" y="323.90">25.5</text>
<text x="95.66" y="278.60">0.512</text>
<text x="139.00" y="278.60">0.24</text>
<text x="95.66" y="323.90">95.4</text>
<text x="143.56" y="323.90">3.8</text>
<text x="32.95" y="335.50">58.8</text>
<text x="76.21" y="335.50">23.9</text>
<text x="32.95" y="381.00">14.4</text>
<text x="76.21" y="381.00">2.85</text>
<text x="95.66" y="335.50">70</text>
<text x="139.00" y="335.50">3.85</text>
<text x="95.66" y="381.00">26</text>
<text x="129.89" y="381.00">0.0612</text>
</g>


<!-- ============ B ============ -->
<g id="B">
<text x="233.2" y="147.6" class="b" font-size="17">B</text>
<g stroke="#000" stroke-width="1.4" fill="none">
<path d="M276.9,151.3 V223.7 M274,223.7 H279.8"/>
<path d="M276.9,235.9 V312.5 H471 M271.7,235.9 H279.8"/>
<path d="M272.3,152 H276.9"/>
<path d="M272.3,178.7 H276.9"/>
<path d="M272.3,205.4 H276.9"/>
<path d="M272.3,261.4 H276.9"/>
<path d="M272.3,286.9 H276.9"/>
<path d="M272.3,312.5 H276.9"/>
<path d="M292.6,312.5 V317.5"/>
<path d="M324.8,312.5 V317.5"/>
<path d="M357.0,312.5 V317.5"/>
<path d="M389.2,312.5 V317.5"/>
<path d="M421.4,312.5 V317.5"/>
<path d="M453.6,312.5 V317.5"/>
</g>
<g class="b" font-size="11" text-anchor="end">
<text x="267.5" y="156.0">6</text>
<text x="267.5" y="182.7">4</text>
<text x="267.5" y="209.4">2</text>
<text x="267.5" y="239.9">0.6</text>
<text x="267.5" y="265.4">0.4</text>
<text x="267.5" y="290.9">0.2</text>
<text x="267.5" y="316.5">0.0</text>
</g>
<text transform="translate(242.8,229.5) rotate(-90)" class="b" font-size="11.8" text-anchor="middle">Fold change</text>
<g class="b" font-size="11" text-anchor="end">
<text transform="translate(296.6,323) rotate(-90)">CSF2</text>
<text transform="translate(328.8,323) rotate(-90)">IL3</text>
<text transform="translate(361.0,323) rotate(-90)">IL22</text>
<text transform="translate(393.2,323) rotate(-90)">GzmB</text>
<text transform="translate(425.4,323) rotate(-90)">Tbx21</text>
<text transform="translate(457.6,323) rotate(-90)">IL10</text>
</g>
<path d="M286.70,217.41 V216.75 M284.20,216.75 H289.20" stroke="#000" stroke-width="1.5" fill="none"/>
<rect x="282.75" y="218.36" width="7.90" height="5.33" fill="#6abd45" stroke="#000" stroke-width="1.9"/>
<rect x="282.75" y="236.85" width="7.90" height="76.15" fill="#6abd45" stroke="#000" stroke-width="1.9"/>
<path d="M299.10,281.85 V274.19 M296.60,274.19 H301.60" stroke="#000" stroke-width="1.5" fill="none"/>
<rect x="295.15" y="282.80" width="7.90" height="30.20" fill="#a82024" stroke="#000" stroke-width="1.9"/>
<path d="M318.92,218.75 V217.95 M316.42,217.95 H321.42" stroke="#000" stroke-width="1.5" fill="none"/>
<rect x="314.97" y="219.70" width="7.90" height="4.00" fill="#6abd45" stroke="#000" stroke-width="1.9"/>
<rect x="314.97" y="236.85" width="7.90" height="76.15" fill="#6abd45" stroke="#000" stroke-width="1.9"/>
<path d="M331.25,278.02 V267.81 M328.75,267.81 H333.75" stroke="#000" stroke-width="1.5" fill="none"/>
<rect x="327.30" y="278.97" width="7.90" height="34.03" fill="#a82024" stroke="#000" stroke-width="1.9"/>
<path d="M351.14,217.01 V215.41 M348.64,215.41 H353.64" stroke="#000" stroke-width="1.5" fill="none"/>
<rect x="347.19" y="217.96" width="7.90" height="5.74" fill="#6abd45" stroke="#000" stroke-width="1.9"/>
<rect x="347.19" y="236.85" width="7.90" height="76.15" fill="#6abd45" stroke="#000" stroke-width="1.9"/>
<path d="M363.40,274.19 V256.95 M360.90,256.95 H365.90" stroke="#000" stroke-width="1.5" fill="none"/>
<rect x="359.45" y="275.14" width="7.90" height="37.86" fill="#a82024" stroke="#000" stroke-width="1.9"/>
<path d="M383.36,217.82 V214.08 M380.86,214.08 H385.86" stroke="#000" stroke-width="1.5" fill="none"/>
<rect x="379.41" y="218.77" width="7.90" height="4.93" fill="#6abd45" stroke="#000" stroke-width="1.9"/>
<rect x="379.41" y="236.85" width="7.90" height="76.15" fill="#6abd45" stroke="#000" stroke-width="1.9"/>
<path d="M395.55,301.01 V299.73 M393.05,299.73 H398.05" stroke="#000" stroke-width="1.5" fill="none"/>
<rect x="391.60" y="301.96" width="7.90" height="11.04" fill="#a82024" stroke="#000" stroke-width="1.9"/>
<path d="M415.58,216.61 V212.74 M413.08,212.74 H418.08" stroke="#000" stroke-width="1.5" fill="none"/>
<rect x="411.63" y="217.56" width="7.90" height="6.14" fill="#6abd45" stroke="#000" stroke-width="1.9"/>
<rect x="411.63" y="236.85" width="7.90" height="76.15" fill="#6abd45" stroke="#000" stroke-width="1.9"/>
<path d="M427.70,288.24 V283.13 M425.20,283.13 H430.20" stroke="#000" stroke-width="1.5" fill="none"/>
<rect x="423.75" y="289.19" width="7.90" height="23.81" fill="#a82024" stroke="#000" stroke-width="1.9"/>
<path d="M447.80,217.28 V214.34 M445.30,214.34 H450.30" stroke="#000" stroke-width="1.5" fill="none"/>
<rect x="443.85" y="218.23" width="7.90" height="5.47" fill="#6abd45" stroke="#000" stroke-width="1.9"/>
<rect x="443.85" y="236.85" width="7.90" height="76.15" fill="#6abd45" stroke="#000" stroke-width="1.9"/>
<path d="M459.85,179.37 V164.28 M457.35,164.28 H462.35" stroke="#000" stroke-width="1.5" fill="none"/>
<rect x="455.90" y="180.32" width="7.90" height="43.38" fill="#a82024" stroke="#000" stroke-width="1.9"/>
<rect x="455.90" y="236.85" width="7.90" height="76.15" fill="#a82024" stroke="#000" stroke-width="1.9"/>
<g class="b" font-size="8.5" text-anchor="middle" fill="#222">
<text x="299.1" y="273.5" letter-spacing="0.6">***</text>
<text x="331.2" y="265.5" letter-spacing="0.6">**</text>
<text x="363.4" y="254.5" letter-spacing="0.6">**</text>
<text x="395.5" y="299.9" letter-spacing="0.6">***</text>
<text x="427.7" y="282.9" letter-spacing="0.6">***</text>
<text x="459.8" y="162.3" letter-spacing="0.6">**</text>
</g>
<line x1="286.5" y1="159.3" x2="301.2" y2="159.3" stroke="#6abd45" stroke-width="2.6"/>
<text x="308.8" y="162.3" class="b" font-size="10">Th17<tspan font-size="6.5" dy="-3.6">IL1β</tspan></text>
<text x="284.8" y="174" class="b" font-size="10.45">(complete media)</text>
<line x1="374.6" y1="161.2" x2="389.6" y2="161.2" stroke="#a82024" stroke-width="2.6"/>
<text x="395.9" y="162.3" class="b" font-size="10">Th17<tspan font-size="6.5" dy="-3.6">IL1β</tspan></text>
<text x="384.8" y="174" class="b" font-size="10.45">(–Glu +Pyru)</text>
</g>


<!-- ============ C ============ -->
<g id="C">
<text x="19.3" y="419.2" class="b" font-size="17">C</text>
<g stroke="#666" stroke-width="1.1" fill="none">
<path d="M49.9,432.2 V530.5"/>
<path d="M47.2,530.5 H49.9"/>
<path d="M47.2,510.8 H49.9"/>
<path d="M47.2,491.2 H49.9"/>
<path d="M47.2,471.5 H49.9"/>
<path d="M47.2,451.9 H49.9"/>
<path d="M47.2,432.2 H49.9"/>
</g>
<path d="M47.5,530.5 H95.9 M62.1,530.5 V532.8 M82.7,530.5 V532.8" stroke="#333" stroke-width="1.2" fill="none"/>
<g class="b" font-size="8.6" text-anchor="end">
<text x="44.9" y="533.6">0</text>
<text x="44.9" y="513.9">20</text>
<text x="44.9" y="494.3">40</text>
<text x="44.9" y="474.6">60</text>
<text x="44.9" y="455.0">80</text>
<text x="44.9" y="435.3">100</text>
</g>
<text transform="translate(26.8,481.6) rotate(-90)" class="b" font-size="8.95" text-anchor="middle">% of B16-Ova cell lysis</text>
<path d="M62.50,449.00 V447.30 M58.50,447.30 H66.50" stroke="#000" stroke-width="1.6" fill="none"/>
<rect x="54.35" y="449.35" width="16.10" height="81.15" fill="#6abd45" stroke="#000" stroke-width="1.5"/>
<path d="M82.70,502.50 V498.30 M78.50,498.30 H86.90" stroke="#000" stroke-width="1.6" fill="none"/>
<rect x="75.15" y="503.25" width="14.90" height="27.25" fill="#a82024" stroke="#000" stroke-width="1.5"/>
<text x="82.3" y="496.5" class="b" font-size="8" text-anchor="middle" fill="#777" letter-spacing="0.5">***</text>
</g>


<!-- ============ D ============ -->
<g id="D">
<text x="121.5" y="419.1" class="b" font-size="17">D</text>
<g stroke="#222" stroke-width="1.5" fill="none">
<path d="M161.9,436.4 V578.5 H377.5"/>
<path d="M158.6,578.5 H161.9"/>
<path d="M158.6,550.2 H161.9"/>
<path d="M158.6,521.9 H161.9"/>
<path d="M158.6,493.5 H161.9"/>
<path d="M158.6,465.2 H161.9"/>
<path d="M158.6,436.9 H161.9"/>
<path d="M161.9,578.5 V581.5"/>
<path d="M204.8,578.5 V581.5"/>
<path d="M247.7,578.5 V581.5"/>
<path d="M290.6,578.5 V581.5"/>
<path d="M333.5,578.5 V581.5"/>
<path d="M376.4,578.5 V581.5"/>
</g>
<g class="b" font-size="9.7" text-anchor="end">
<text x="156.3" y="581.8">0</text>
<text x="156.3" y="553.5">100</text>
<text x="156.3" y="525.2">200</text>
<text x="156.3" y="496.8">300</text>
<text x="156.3" y="468.5">400</text>
<text x="156.3" y="440.2">500</text>
</g>
<g class="b" font-size="9.7" text-anchor="middle">
<text x="161.9" y="592.5">0</text>
<text x="204.8" y="592.5">5</text>
<text x="247.7" y="592.5">10</text>
<text x="290.6" y="592.5">15</text>
<text x="333.5" y="592.5">20</text>
<text x="376.4" y="592.5">25</text>
</g>
<text x="268.5" y="604.6" class="b" font-size="9.9" text-anchor="middle">Days</text>
<text transform="translate(135.4,507.3) rotate(-90)" class="b" font-size="12.1" text-anchor="middle">Tumor size (mm<tspan font-size="7" dy="-4">2</tspan><tspan dy="4">)</tspan></text>
<polyline points="170.5,568.6 187.6,565.8 222.0,567.2 239.1,572.8 256.3,573.4 273.4,570.6 290.6,568.6 307.8,567.2 324.9,565.2 342.1,564.9 359.2,562.9 376.4,561.5" fill="none" stroke="#72c04c" stroke-width="1.3"/>
<path d="M170.5,566.3 V570.9 M167.9,566.3 H173.1 M167.9,570.9 H173.1" stroke="#72c04c" stroke-width="1.3" fill="none"/>
<rect x="168.2" y="566.3" width="4.6" height="4.6" fill="#72c04c"/>
<path d="M187.6,563.5 V568.0 M185.0,563.5 H190.2 M185.0,568.0 H190.2" stroke="#72c04c" stroke-width="1.3" fill="none"/>
<rect x="185.3" y="563.5" width="4.6" height="4.6" fill="#72c04c"/>
<path d="M222.0,562.9 V571.4 M219.4,562.9 H224.6 M219.4,571.4 H224.6" stroke="#72c04c" stroke-width="1.3" fill="none"/>
<rect x="219.7" y="564.9" width="4.6" height="4.6" fill="#72c04c"/>
<path d="M239.1,568.6 V577.1 M236.5,568.6 H241.7 M236.5,577.1 H241.7" stroke="#72c04c" stroke-width="1.3" fill="none"/>
<rect x="236.8" y="570.5" width="4.6" height="4.6" fill="#72c04c"/>
<path d="M256.3,570.0 V576.8 M253.7,570.0 H258.9 M253.7,576.8 H258.9" stroke="#72c04c" stroke-width="1.3" fill="none"/>
<rect x="254.0" y="571.1" width="4.6" height="4.6" fill="#72c04c"/>
<path d="M273.4,566.3 V574.8 M270.8,566.3 H276.0 M270.8,574.8 H276.0" stroke="#72c04c" stroke-width="1.3" fill="none"/>
<rect x="271.1" y="568.3" width="4.6" height="4.6" fill="#72c04c"/>
<path d="M290.6,564.3 V572.8 M288.0,564.3 H293.2 M288.0,572.8 H293.2" stroke="#72c04c" stroke-width="1.3" fill="none"/>
<rect x="288.3" y="566.3" width="4.6" height="4.6" fill="#72c04c"/>
<path d="M307.8,562.9 V571.4 M305.2,562.9 H310.4 M305.2,571.4 H310.4" stroke="#72c04c" stroke-width="1.3" fill="none"/>
<rect x="305.5" y="564.9" width="4.6" height="4.6" fill="#72c04c"/>
<path d="M324.9,560.9 V569.4 M322.3,560.9 H327.5 M322.3,569.4 H327.5" stroke="#72c04c" stroke-width="1.3" fill="none"/>
<rect x="322.6" y="562.9" width="4.6" height="4.6" fill="#72c04c"/>
<path d="M342.1,561.5 V568.3 M339.5,561.5 H344.7 M339.5,568.3 H344.7" stroke="#72c04c" stroke-width="1.3" fill="none"/>
<rect x="339.8" y="562.6" width="4.6" height="4.6" fill="#72c04c"/>
<path d="M359.2,558.7 V567.2 M356.6,558.7 H361.8 M356.6,567.2 H361.8" stroke="#72c04c" stroke-width="1.3" fill="none"/>
<rect x="356.9" y="560.6" width="4.6" height="4.6" fill="#72c04c"/>
<path d="M376.4,557.3 V565.8 M373.8,557.3 H379.0 M373.8,565.8 H379.0" stroke="#72c04c" stroke-width="1.3" fill="none"/>
<rect x="374.1" y="559.2" width="4.6" height="4.6" fill="#72c04c"/>
<polyline points="170.5,569.4 187.6,565.8 222.0,561.5 239.1,553.0 256.3,531.8 273.4,489.3 290.6,459.6" fill="none" stroke="#000" stroke-width="1.3"/>
<path d="M170.5,568.0 V570.9 M167.9,568.0 H173.1 M167.9,570.9 H173.1" stroke="#000" stroke-width="1.3" fill="none"/>
<circle cx="170.5" cy="569.4" r="2.2" fill="#000"/>
<path d="M187.6,564.1 V567.5 M185.0,564.1 H190.2 M185.0,567.5 H190.2" stroke="#000" stroke-width="1.3" fill="none"/>
<circle cx="187.6" cy="565.8" r="2.2" fill="#000"/>
<path d="M222.0,559.2 V563.8 M219.4,559.2 H224.6 M219.4,563.8 H224.6" stroke="#000" stroke-width="1.3" fill="none"/>
<circle cx="222.0" cy="561.5" r="2.2" fill="#000"/>
<path d="M239.1,548.8 V557.3 M236.5,548.8 H241.7 M236.5,557.3 H241.7" stroke="#000" stroke-width="1.3" fill="none"/>
<circle cx="239.1" cy="553.0" r="2.2" fill="#000"/>
<path d="M256.3,523.3 V540.3 M253.7,523.3 H258.9 M253.7,540.3 H258.9" stroke="#000" stroke-width="1.3" fill="none"/>
<circle cx="256.3" cy="531.8" r="2.2" fill="#000"/>
<path d="M273.4,480.2 V498.4 M270.8,480.2 H276.0 M270.8,498.4 H276.0" stroke="#000" stroke-width="1.3" fill="none"/>
<circle cx="273.4" cy="489.3" r="2.2" fill="#000"/>
<path d="M290.6,453.9 V465.2 M288.0,453.9 H293.2 M288.0,465.2 H293.2" stroke="#000" stroke-width="1.3" fill="none"/>
<circle cx="290.6" cy="459.6" r="2.2" fill="#000"/>
<polyline points="170.5,570.0 187.6,565.8 222.0,560.9 239.1,552.4 256.3,542.3 273.4,526.7 290.6,507.7 307.8,496.4 324.9,465.2" fill="none" stroke="#a82024" stroke-width="1.3"/>
<path d="M170.5,568.6 V571.4 M167.9,568.6 H173.1 M167.9,571.4 H173.1" stroke="#a82024" stroke-width="1.3" fill="none"/>
<path d="M170.5,567.2 L173.2,571.9 L167.8,571.9Z" fill="#a82024"/>
<path d="M187.6,564.1 V567.5 M185.0,564.1 H190.2 M185.0,567.5 H190.2" stroke="#a82024" stroke-width="1.3" fill="none"/>
<path d="M187.6,563.0 L190.3,567.7 L184.9,567.7Z" fill="#a82024"/>
<path d="M222.0,558.7 V563.2 M219.4,558.7 H224.6 M219.4,563.2 H224.6" stroke="#a82024" stroke-width="1.3" fill="none"/>
<path d="M222.0,558.1 L224.7,562.8 L219.3,562.8Z" fill="#a82024"/>
<path d="M239.1,548.2 V556.7 M236.5,548.2 H241.7 M236.5,556.7 H241.7" stroke="#a82024" stroke-width="1.3" fill="none"/>
<path d="M239.1,549.6 L241.8,554.3 L236.4,554.3Z" fill="#a82024"/>
<path d="M256.3,539.4 V545.1 M253.7,539.4 H258.9 M253.7,545.1 H258.9" stroke="#a82024" stroke-width="1.3" fill="none"/>
<path d="M256.3,539.5 L259.0,544.2 L253.6,544.2Z" fill="#a82024"/>
<path d="M273.4,521.6 V531.8 M270.8,521.6 H276.0 M270.8,531.8 H276.0" stroke="#a82024" stroke-width="1.3" fill="none"/>
<path d="M273.4,523.9 L276.1,528.6 L270.7,528.6Z" fill="#a82024"/>
<path d="M290.6,497.8 V517.6 M288.0,497.8 H293.2 M288.0,517.6 H293.2" stroke="#a82024" stroke-width="1.3" fill="none"/>
<path d="M290.6,504.9 L293.3,509.6 L287.9,509.6Z" fill="#a82024"/>
<path d="M307.8,484.5 V508.3 M305.2,484.5 H310.4 M305.2,508.3 H310.4" stroke="#a82024" stroke-width="1.3" fill="none"/>
<path d="M307.8,493.6 L310.5,498.3 L305.1,498.3Z" fill="#a82024"/>
<path d="M324.9,456.7 V473.7 M322.3,456.7 H327.5 M322.3,473.7 H327.5" stroke="#a82024" stroke-width="1.3" fill="none"/>
<path d="M324.9,462.4 L327.6,467.1 L322.2,467.1Z" fill="#a82024"/>
<text x="376.4" y="553" class="b" font-size="8" text-anchor="middle" fill="#222" letter-spacing="0.5">**</text>
<path d="M166.7,439.4 H177" stroke="#000" stroke-width="1.3"/><circle cx="171.9" cy="439.4" r="2.1" fill="#000"/>
<text x="183.5" y="443.7" class="b" font-size="10">Control</text>
<path d="M166.7,464.3 H177" stroke="#72c04c" stroke-width="1.3"/><rect x="169.6" y="462" width="4.6" height="4.6" fill="#72c04c"/>
<text x="183.5" y="465" class="b" font-size="10">Th17<tspan font-size="6.5" dy="-3.6">IL1β</tspan></text>
<text x="183.5" y="476.6" class="b" font-size="10.15">(complete media)</text>
<path d="M166.7,495.3 H177" stroke="#a82024" stroke-width="1.3"/><path d="M171.9,492.5 L174.6,497.2 L169.2,497.2Z" fill="#a82024"/>
<text x="183.5" y="497" class="b" font-size="10">Th17<tspan font-size="6.5" dy="-3.6">IL1β</tspan></text>
<text x="183.5" y="508.6" class="b" font-size="10.15">(–Glu +Pyru)</text>
</g>


</svg>
</body></html>
